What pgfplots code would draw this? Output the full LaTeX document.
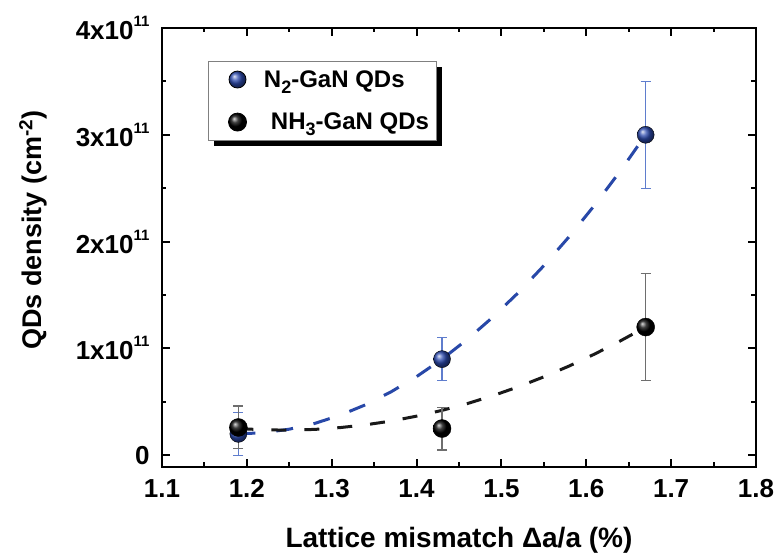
\documentclass[border=0pt]{standalone}
\usepackage{fontspec}
\setmainfont{Liberation Sans}
\usepackage{pgfplots}
\pgfplotsset{compat=1.18}
\usetikzlibrary{shadows}
\definecolor{mblue}{RGB}{45,75,175}
\definecolor{dblue}{RGB}{40,72,168}
\definecolor{eblue}{RGB}{95,125,205}
\definecolor{egray}{RGB}{110,110,110}
\newcommand{\sq}[1]{\raisebox{13pt}{\fontsize{15}{15}\selectfont #1}}
\newcommand{\sub}[1]{\raisebox{-6pt}{\fontsize{18}{18}\selectfont #1}}
\pgfplotsset{ballleg/.style={legend image code/.code={\draw[##1] plot coordinates {(0pt,0pt)}; \path (-22pt,0pt) (9pt,0pt);}}}
\begin{document}
\begin{tikzpicture}
\begin{axis}[
  scale only axis, width=594pt, height=439pt,
  xmin=1.1, xmax=1.8, ymin=-1.1e10, ymax=4e11,
  axis line style={line width=2.2pt},
  tick style={line width=2pt, black},
  major tick length=8pt, minor tick length=4.5pt,
  tick align=inside,
  xtick={1.1,1.2,1.3,1.4,1.5,1.6,1.7,1.8},
  xticklabels={1.1,1.2,1.3,1.4,1.5,1.6,1.7,1.8},
  minor xtick={1.15,1.25,1.35,1.45,1.55,1.65,1.75},
  ytick={0,1e11,2e11,3e11,4e11},
  yticklabels={0,1x10\sq{11},2x10\sq{11},3x10\sq{11},4x10\sq{11}},
  minor ytick={5e10,1.5e11,2.5e11,3.5e11},
  scaled y ticks=false,
  xticklabel style={font=\fontsize{26}{30}\selectfont\bfseries, yshift=-9pt},
  yticklabel style={font=\fontsize{26}{30}\selectfont\bfseries, xshift=-9pt},
  xlabel={Lattice mismatch Δa/a (\%)},
  ylabel={QDs density (cm\textsuperscript{-2})},
  xlabel style={font=\fontsize{28}{30}\selectfont\bfseries, at={(axis description cs:0.5,0)}, anchor=base, yshift=-81pt},
  ylabel style={font=\fontsize{27}{30}\selectfont\bfseries, at={(axis description cs:-0.217,0.54)}, anchor=center},
  legend style={at={(axis description cs:0.077,0.9248)}, anchor=north west,
    draw=gray, line width=0.8pt, fill=white,
    drop shadow={shadow xshift=6pt, shadow yshift=-6pt, fill=black, opacity=1},
    font=\fontsize{24}{28}\selectfont\bfseries,
    nodes={inner sep=0pt},
    column sep=17pt, row sep=24pt, inner xsep=7pt, inner ysep=9pt},
  legend cell align=left,
]
% fitted dashed curves
\addplot[dblue, line width=3pt, dash pattern=on 17pt off 21pt, forget plot] coordinates {
 (1.19,2.00e10) (1.22,2.11e10) (1.25,2.44e10) (1.28,2.98e10) (1.31,3.75e10)
 (1.34,4.73e10) (1.37,5.94e10) (1.40,7.36e10) (1.43,9.00e10) (1.46,1.086e11)
 (1.49,1.294e11) (1.52,1.523e11) (1.55,1.775e11) (1.58,2.048e11) (1.61,2.343e11)
 (1.64,2.660e11) (1.67,3.00e11)};
\addplot[black!90, line width=3pt, dash pattern=on 15pt off 18pt, forget plot] coordinates {
 (1.19,2.50e10) (1.22,2.38e10) (1.25,2.35e10) (1.28,2.42e10) (1.31,2.59e10)
 (1.34,2.85e10) (1.37,3.20e10) (1.40,3.66e10) (1.43,4.20e10) (1.46,4.84e10)
 (1.49,5.58e10) (1.52,6.41e10) (1.55,7.34e10) (1.58,8.36e10) (1.61,9.48e10)
 (1.64,1.070e11) (1.67,1.200e11)};
% N2 points
\addplot[only marks, mark=ball, mark size=8.5pt, ball color=mblue, ballleg,
  error bars/.cd, y dir=both, y explicit,
  error bar style={line width=1.3pt, color=eblue},
  error mark options={rotate=90, line width=1.3pt, mark size=5pt, color=eblue}]
 coordinates {(1.19,2.0e10) +- (0,2.0e10) (1.43,9.0e10) +- (0,2.0e10) (1.67,3.0e11) +- (0,5.0e10)};
\addlegendentry{N\sub{2}-GaN QDs}
% NH3 points
\addplot[only marks, mark=ball, mark size=9pt, ball color=black, ballleg,
  error bars/.cd, y dir=both, y explicit,
  error bar style={line width=1.3pt, color=egray},
  error mark options={rotate=90, line width=1.3pt, mark size=5pt, color=egray}]
 coordinates {(1.19,2.6e10) +- (0,2.0e10) (1.43,2.5e10) +- (0,2.0e10) (1.67,1.2e11) +- (0,5.0e10)};
\addlegendentry{\hspace{7pt}NH\sub{3}-GaN QDs}
\end{axis}
\pgfresetboundingbox
\path[use as bounding box] (-162pt,-92pt) rectangle (615pt,467pt);
\end{tikzpicture}
\end{document}
